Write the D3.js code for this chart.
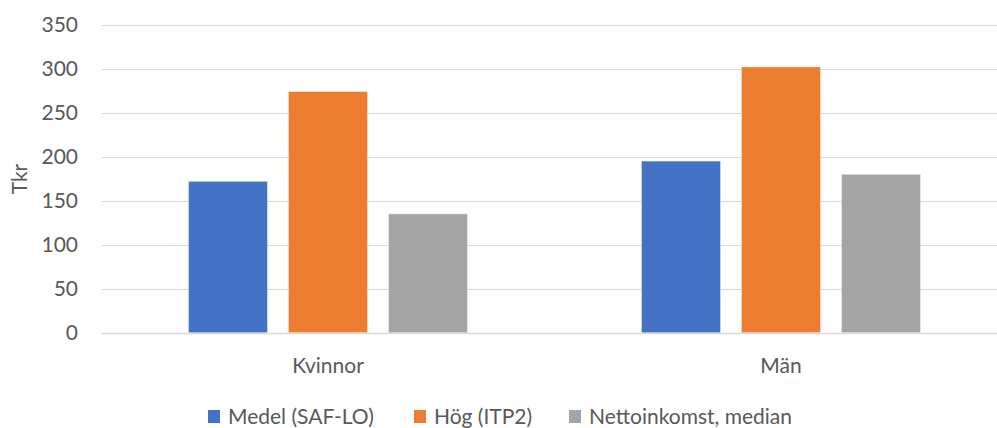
<!DOCTYPE html>
<html>
<head>
<meta charset="utf-8">
<script src="https://cdn.jsdelivr.net/npm/d3@7/dist/d3.min.js"></script>
<style>
  html, body { margin: 0; padding: 0; background: #fff; overflow: hidden; }
  svg text { font-family: Lato, "Open Sans", sans-serif; fill: #595959; }
</style>
</head>
<body>
<svg id="chart" width="997" height="428"></svg>
<script>
// Pensions and net income, thousand SEK
const categories = ["Kvinnor", "Män"];
const seriesNames = ["Medel (SAF-LO)", "Hög (ITP2)", "Nettoinkomst, median"];
const seriesColors = ["#4472C4", "#ED7D31", "#A5A5A5"];
const medel = [172, 195];
const hog = [274, 302];
const netto = [135, 180];
const yTicks = [0, 50, 100, 150, 200, 250, 300, 350];
const yTitle = "Tkr";

const seriesValues = [medel, hog, netto];
const rows = categories.map((c, i) => ({
  category: c,
  values: seriesNames.map((s, j) => ({ series: s, index: j, value: seriesValues[j][i] }))
}));

const fontSize = 21;
const svg = d3.select("#chart");

const y = d3.scaleLinear().domain([0, 350]).range([332.7, 24.7]);
const x0 = d3.scaleBand().domain(categories).range([101.5, 1007.5])
  .paddingInner(0.384).paddingOuter(0.192);
const x1 = d3.scaleBand().domain(seriesNames).range([0, x0.bandwidth()])
  .paddingInner(0.21).paddingOuter(0);

// horizontal gridlines
svg.append("g")
  .selectAll("line")
  .data(yTicks)
  .join("line")
  .attr("x1", 101.5).attr("x2", 1007.5)
  .attr("y1", d => Math.round(y(d)) + 0.5)
  .attr("y2", d => Math.round(y(d)) + 0.5)
  .attr("stroke", "#d9d9d9")
  .attr("stroke-width", d => d === 0 ? 1.5 : 1);

// y-axis labels
const yAxis = d3.axisLeft(y).tickValues(yTicks).tickSize(0).tickPadding(0);
const yg = svg.append("g").attr("transform", "translate(78,0)").call(yAxis);
yg.select(".domain").remove();
yg.selectAll("text")
  .attr("font-size", fontSize)
  .attr("font-family", "Lato, sans-serif")
  .attr("fill", "#595959");

// y-axis title
svg.append("text")
  .attr("transform", "translate(27,179) rotate(-90)")
  .attr("text-anchor", "middle")
  .attr("font-size", fontSize)
  .text(yTitle);

// bars
const groups = svg.append("g")
  .selectAll("g")
  .data(rows)
  .join("g")
  .attr("transform", d => `translate(${x0(d.category)},0)`);

groups.selectAll("rect")
  .data(d => d.values)
  .join("rect")
  .attr("x", d => x1(d.series))
  .attr("width", x1.bandwidth())
  .attr("y", d => y(d.value))
  .attr("height", d => y(0) - y(d.value))
  .attr("fill", d => seriesColors[d.index])
  .attr("stroke", "#ffffff")
  .attr("stroke-opacity", 0.5)
  .attr("stroke-width", 0.75);

// category labels
const xAxis = d3.axisBottom(x0).tickSize(0).tickPadding(0);
const xg = svg.append("g").attr("transform", "translate(0,373)").call(xAxis);
xg.select(".domain").remove();
xg.selectAll("text")
  .attr("font-size", fontSize)
  .attr("font-family", "Lato, sans-serif")
  .attr("fill", "#595959")
  .attr("y", 0)
  .attr("dy", 0);

// legend
const legendX = [208, 414, 569];
const legend = svg.append("g")
  .selectAll("g")
  .data(seriesNames)
  .join("g")
  .attr("transform", (d, i) => `translate(${legendX[i]},410)`);
legend.append("rect")
  .attr("width", 12).attr("height", 13)
  .attr("fill", (d, i) => seriesColors[i]);
legend.append("text")
  .attr("x", 20).attr("y", 14)
  .attr("font-size", fontSize)
  .text(d => d);
</script>
</body>
</html>
